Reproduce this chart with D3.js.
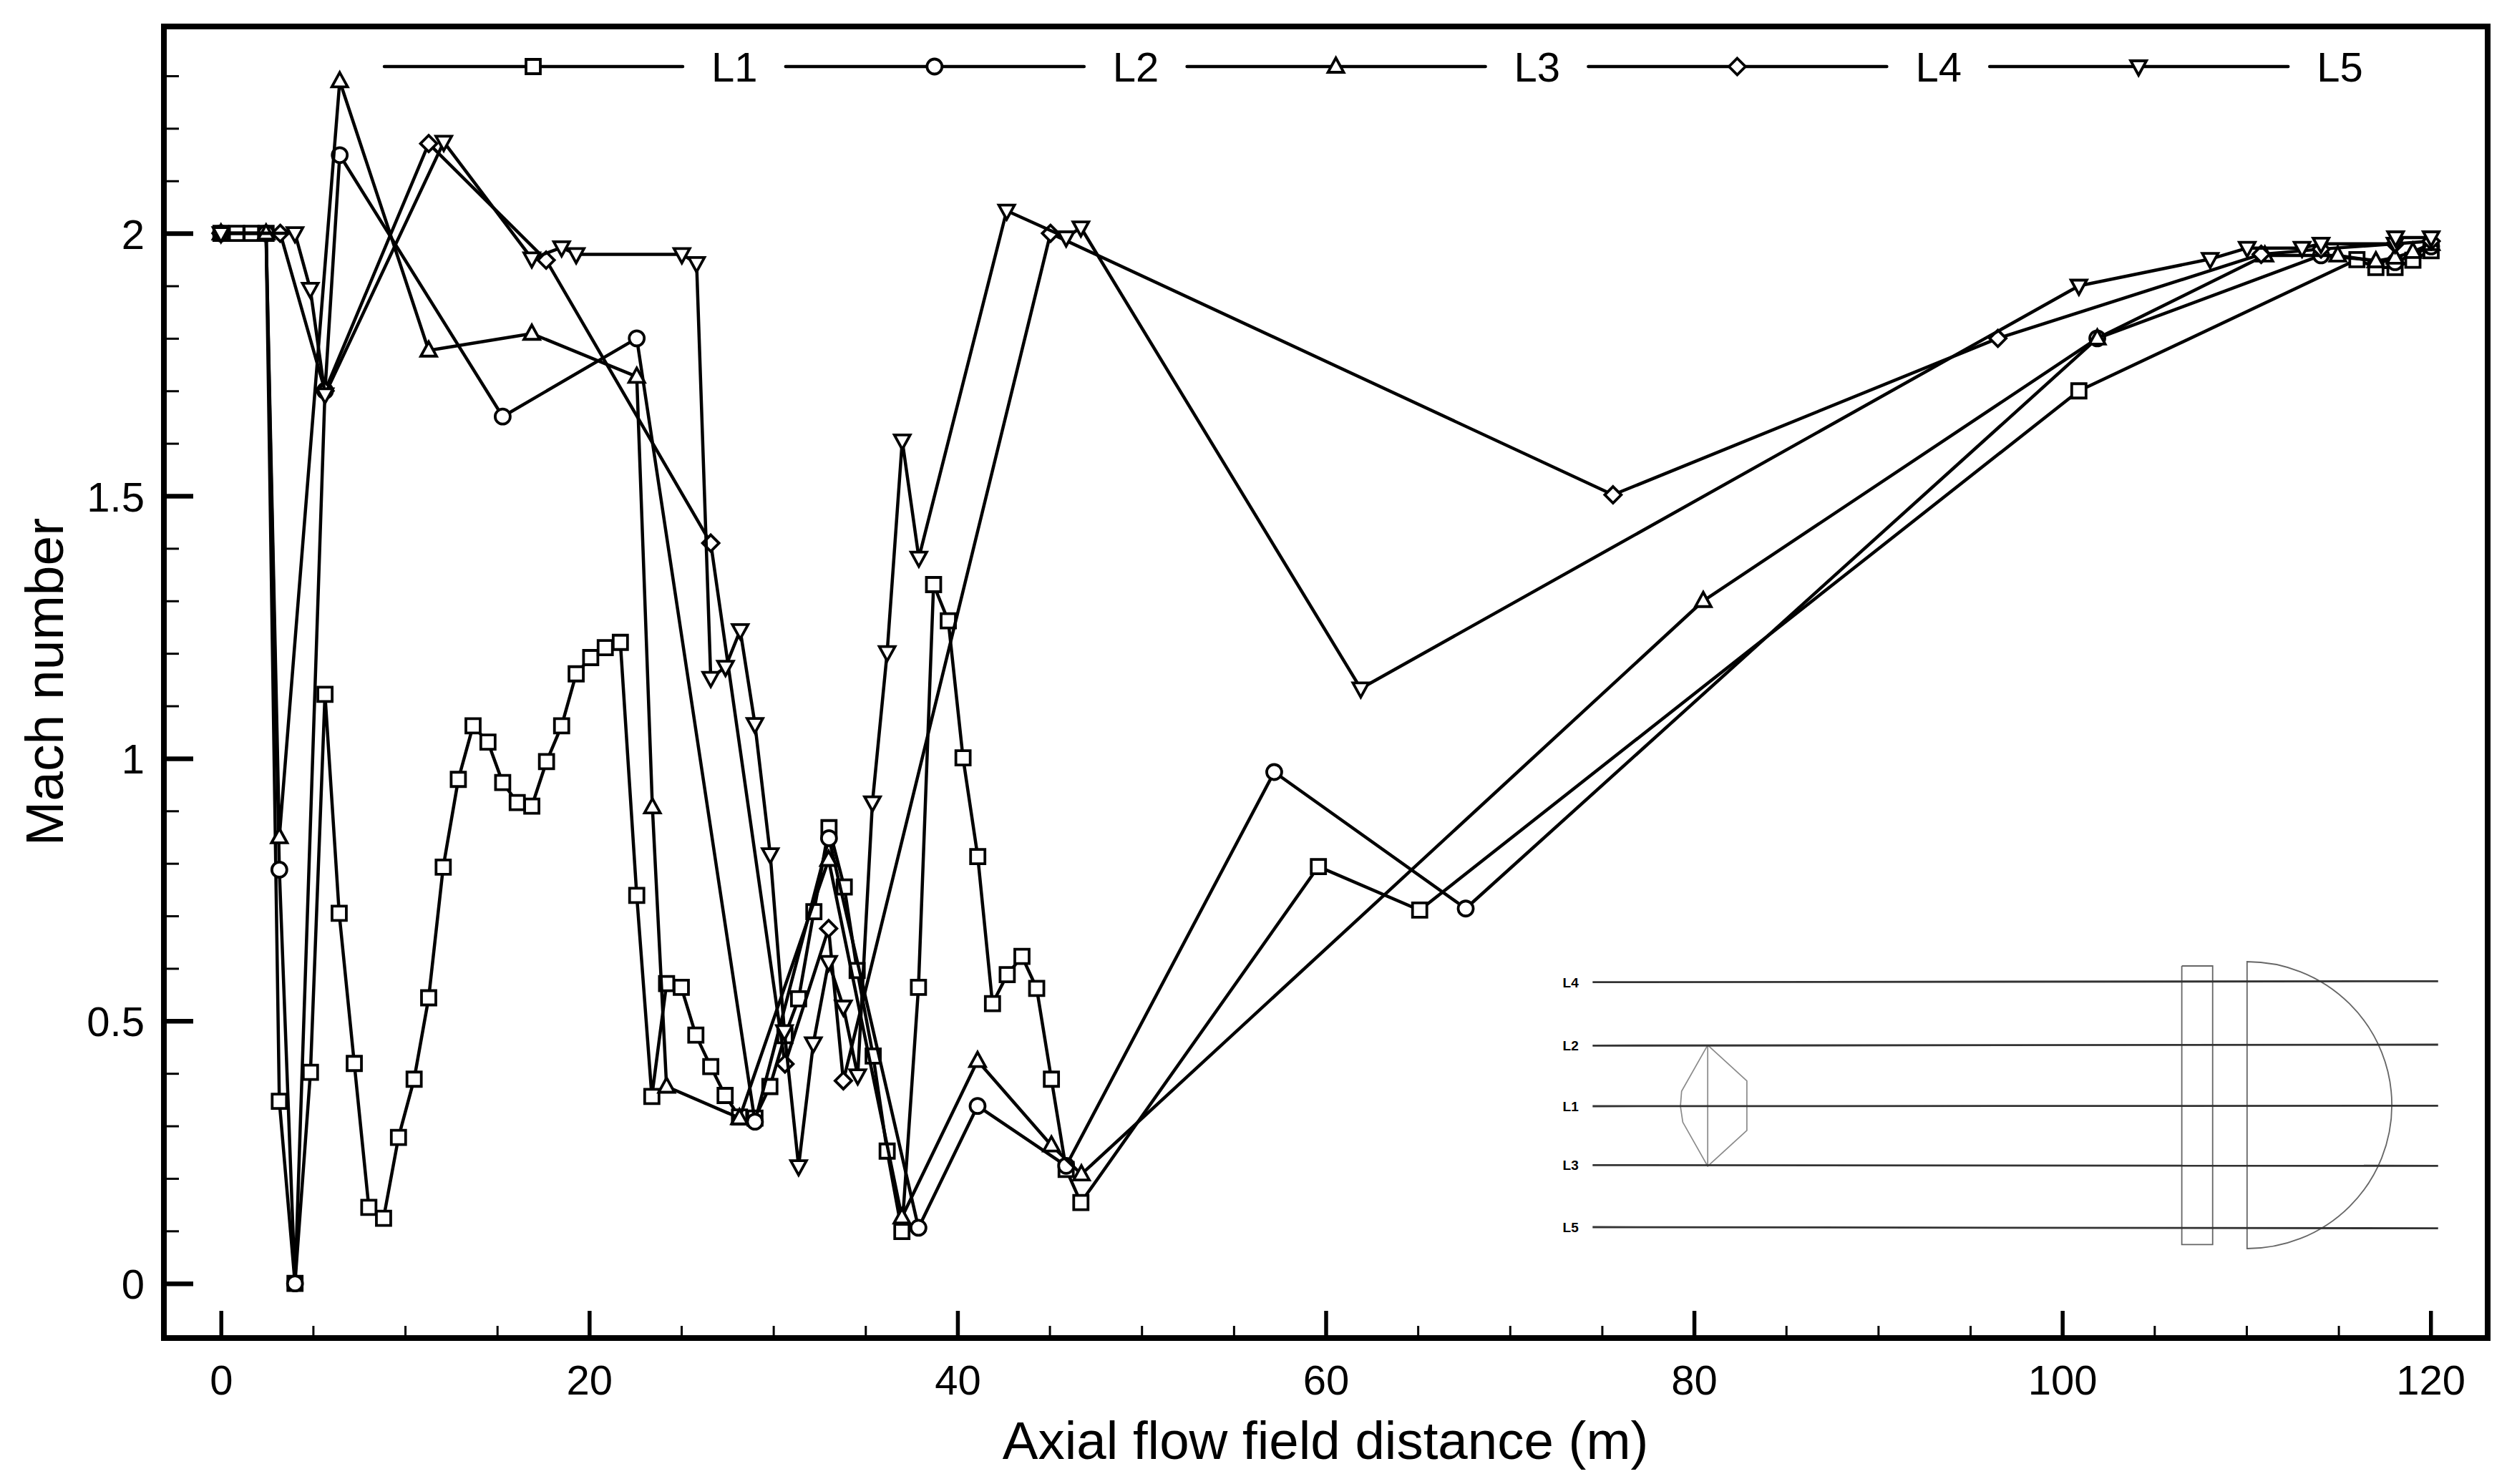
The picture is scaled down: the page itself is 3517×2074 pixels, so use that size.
<!DOCTYPE html>
<html>
    <head>
        <script src="https://d3js.org/d3.v7.min.js"></script>
        <meta charset="utf-8">
        <title>Mach number along axial lines</title>
        <style>
            html, body { margin: 0; padding: 0; background: #fff; }
            text { font-family: "Liberation Sans", Arial, sans-serif; fill: #000; }
        </style>
    </head>
    <body>
        <div id="app"></div>
        <script>

        // values
        const l1x = [0, 0.85, 1.65, 2.45, 3.17, 4.02, 4.86, 5.65, 6.42, 7.24, 8.03, 8.83, 9.64, 10.49, 11.28, 12.07, 12.89, 13.69, 14.5, 15.3, 16.09, 16.88, 17.68, 18.5, 19.29, 20.08, 20.87, 21.69, 22.58, 23.4, 24.2, 25.0, 25.79, 26.6, 27.38, 28.16, 29.0, 29.81, 30.63, 31.37, 32.2, 33.02, 33.85, 34.55, 35.42, 36.18, 36.98, 37.88, 38.7, 39.5, 40.3, 41.1, 41.9, 42.7, 43.5, 44.3, 45.1, 45.9, 46.7, 59.6, 65.1, 100.9, 116.0, 117.03, 118.07, 119.04, 120.03];
        const l1y = [2, 2, 2, 2, 0.347, 0, 0.402, 1.122, 0.705, 0.419, 0.145, 0.124, 0.278, 0.389, 0.544, 0.793, 0.96, 1.062, 1.031, 0.954, 0.916, 0.909, 0.994, 1.062, 1.161, 1.192, 1.211, 1.221, 0.739, 0.356, 0.571, 0.564, 0.473, 0.413, 0.358, 0.317, 0.315, 0.375, 0.472, 0.542, 0.708, 0.868, 0.755, 0.596, 0.433, 0.252, 0.099, 0.564, 1.331, 1.262, 1.001, 0.813, 0.533, 0.588, 0.623, 0.562, 0.389, 0.217, 0.154, 0.794, 0.711, 1.7, 1.95, 1.935, 1.935, 1.949, 1.967];

        const l2x = [0, 2.45, 3.17, 4.02, 5.65, 6.45, 15.3, 22.58, 29.0, 33.02, 37.88, 41.09, 45.9, 57.2, 67.6, 101.9, 114.05, 118.07, 120.03];
        const l2y = [2, 2, 0.788, 0, 1.7, 2.149, 1.651, 1.8, 0.308, 0.848, 0.106, 0.338, 0.224, 0.974, 0.714, 1.8, 1.958, 1.945, 1.975];

        const l3x = [0, 2.45, 3.17, 6.45, 11.28, 16.88, 22.58, 23.43, 24.2, 28.16, 33.0, 36.98, 41.09, 45.1, 46.73, 80.5, 101.9, 111.0, 114.96, 117.03, 118.07, 119.04, 120.03];
        const l3y = [2, 2, 0.85, 2.29, 1.777, 1.809, 1.727, 0.907, 0.375, 0.315, 0.807, 0.126, 0.424, 0.263, 0.208, 1.3, 1.8, 1.958, 1.958, 1.947, 1.954, 1.965, 1.98];

        const l4x = [0, 3.22, 5.65, 11.28, 17.66, 26.6, 30.63, 33.0, 33.8, 45.05, 75.6, 96.5, 110.8, 114.05, 118.07, 120.03];
        const l4y = [2, 2, 1.7, 2.171, 1.949, 1.41, 0.418, 0.676, 0.386, 2, 1.502, 1.8, 1.96, 1.97, 1.98, 1.985];

        const l5x = [0, 4.02, 4.85, 5.65, 12.1, 16.88, 18.5, 19.29, 25.03, 25.83, 26.6, 27.4, 28.2, 29.0, 29.83, 30.6, 31.37, 32.17, 33.0, 33.8, 34.58, 35.38, 36.18, 37.0, 37.9, 42.67, 45.9, 46.7, 61.9, 100.9, 108.03, 110.04, 113.02, 114.05, 118.07, 118.1, 120.03];
        const l5y = [2, 2, 1.894, 1.693, 2.174, 1.952, 1.973, 1.96, 1.96, 1.943, 1.153, 1.174, 1.244, 1.065, 0.817, 0.48, 0.223, 0.457, 0.612, 0.527, 0.396, 0.916, 1.202, 1.605, 1.382, 2.043, 1.992, 2.011, 1.133, 1.9, 1.951, 1.972, 1.972, 1.98, 1.98, 1.992, 1.992];

        const seriesNames = ["L1", "L2", "L3", "L4", "L5"];
        const seriesX = [l1x, l2x, l3x, l4x, l5x];
        const seriesY = [l1y, l2y, l3y, l4y, l5y];
        const seriesMarkers = ["square", "circle", "triangle", "diamond", "down"];

        const xMajor = [0, 20, 40, 60, 80, 100, 120];
        const xMinor = d3.range(5, 120, 5).filter(d => d % 20 != 0);
        const yMajor = [0, 0.5, 1, 1.5, 2];
        const yMinor = [0.1, 0.2, 0.3, 0.4, 0.6, 0.7, 0.8, 0.9, 1.1, 1.2, 1.3, 1.4, 1.6, 1.7, 1.8, 1.9, 2.1, 2.2, 2.3];

        // inset sketch of the body with the five sampling lines, traced in its own units
        const insetLines = [
            {name: "L4", y0: 218, y1: 214},
            {name: "L2", y0: 484, y1: 480},
            {name: "L1", y0: 738, y1: 736},
            {name: "L3", y0: 985, y1: 988},
            {name: "L5", y0: 1245, y1: 1250}
        ];
        const lensOutline = [[309, 482], [375, 632], [375, 840], [309, 990], [267, 805], [263, 738], [265, 675], [309, 482]];
        const lensAxis = [[309, 482], [309, 990]];
        const plateOutline = [[1108, 150], [1160, 150], [1160, 1318], [1108, 1318], [1108, 150]];

        const width = 3517, height = 2074;
        const frame = {left: 229, right: 3476, top: 37, bottom: 1870};

        const x = d3.scaleLinear().domain([-3.1, 123.1]).range([frame.left, frame.right]);
        const y = d3.scaleLinear().domain([-0.104, 2.394]).range([frame.bottom, frame.top]);

        const svg = d3.select("#app").append("svg")
            .attr("width", width)
            .attr("height", height)
            .style("display", "block");

        svg.append("rect").attr("width", width).attr("height", height).attr("fill", "#fff");

        const markerPaths = {
            square: "M-10,-10H10V10H-10Z",
            circle: "M-10.5,0A10.5,10.5 0 1,1 10.5,0A10.5,10.5 0 1,1 -10.5,0Z",
            triangle: "M0,-12L11,8H-11Z",
            down: "M0,12L11,-8H-11Z",
            diamond: "M0,-11.5L11.5,0L0,11.5L-11.5,0Z"
        };

        function drawMarker(g, kind, px, py) {
            g.append("path")
                .attr("d", markerPaths[kind])
                .attr("transform", `translate(${px},${py})`)
                .attr("fill", "#fff")
                .attr("stroke", "#000")
                .attr("stroke-width", 3.8);
        }

        // inset goes under the curves
        const insetX = d3.scaleLinear().domain([0, 1568]).range([2130, 3430]);
        const insetY = d3.scaleLinear().domain([0, 1500]).range([1300, 1800]);
        const inset = svg.append("g");
        const insetLine = d3.line().x(d => insetX(d[0])).y(d => insetY(d[1]));

        inset.append("path").attr("d", insetLine(lensOutline)).attr("fill", "none").attr("stroke", "#8a8a8a").attr("stroke-width", 1.7);
        inset.append("path").attr("d", insetLine(lensAxis)).attr("fill", "none").attr("stroke", "#8a8a8a").attr("stroke-width", 1.7);
        inset.append("path").attr("d", insetLine(plateOutline)).attr("fill", "none").attr("stroke", "#666").attr("stroke-width", 1.8);

        // nose: flat base and elliptical dome
        const rx = insetX(1462) - insetX(1218), ry = (insetY(1335) - insetY(132)) / 2;
        inset.append("path")
            .attr("d", `M${insetX(1218)},${insetY(132)}A${rx},${ry} 0 0,1 ${insetX(1218)},${insetY(1335)}Z`)
            .attr("fill", "none")
            .attr("stroke", "#666")
            .attr("stroke-width", 1.8);

        insetLines.forEach(l => {
            inset.append("line")
                .attr("x1", insetX(115)).attr("y1", insetY(l.y0))
                .attr("x2", insetX(1540)).attr("y2", insetY(l.y1))
                .attr("stroke", "#333")
                .attr("stroke-width", 2.8);
            inset.append("text")
                .attr("x", insetX(78)).attr("y", insetY(l.y0) + 7)
                .attr("text-anchor", "middle")
                .attr("font-size", 19)
                .attr("font-weight", "bold")
                .attr("fill", "#222")
                .text(l.name);
        });

        // curves, each series draws its line then its markers
        const curve = d3.line().x(d => x(d[0])).y(d => y(d[1]));
        seriesNames.forEach((name, i) => {
            const pts = d3.zip(seriesX[i], seriesY[i]);
            const g = svg.append("g").attr("class", "series");
            g.append("path")
                .attr("d", curve(pts))
                .attr("fill", "none")
                .attr("stroke", "#000")
                .attr("stroke-width", 4.5)
                .attr("stroke-linejoin", "round");
            pts.forEach(p => drawMarker(g, seriesMarkers[i], x(p[0]), y(p[1])));
        });

        // legend across the top
        const legend = svg.append("g");
        seriesNames.forEach((name, i) => {
            const x0 = 537 + 560.8 * i;
            legend.append("line")
                .attr("x1", x0).attr("x2", x0 + 417)
                .attr("y1", 93).attr("y2", 93)
                .attr("stroke", "#000")
                .attr("stroke-width", 4.5)
                .attr("stroke-linecap", "round");
            drawMarker(legend, seriesMarkers[i], x0 + 208, 93);
            legend.append("text")
                .attr("x", x0 + 457)
                .attr("y", 114)
                .attr("font-size", 58)
                .text(name);
        });

        // axes
        const xAxisMinor = d3.axisBottom(x).tickValues(xMinor).tickSize(-17).tickFormat("");
        const xAxisMajor = d3.axisBottom(x).tickValues(xMajor).tickSize(-38).tickPadding(0).tickFormat(d3.format("d"));
        const yAxisMinor = d3.axisLeft(y).tickValues(yMinor).tickSize(-21).tickFormat("");
        const yAxisMajor = d3.axisLeft(y).tickValues(yMajor).tickSize(-41).tickPadding(0).tickFormat(d => d);

        function drawAxis(axis, transform, tickWidth) {
            const g = svg.append("g").attr("transform", transform).call(axis);
            g.select(".domain").remove();
            g.selectAll(".tick line").attr("stroke", "#000").attr("stroke-width", tickWidth);
            return g;
        }

        drawAxis(xAxisMinor, `translate(0,${frame.bottom})`, 3);
        drawAxis(yAxisMinor, `translate(${frame.left},0)`, 3);

        const xg = drawAxis(xAxisMajor, `translate(0,${frame.bottom})`, 5.5);
        xg.selectAll(".tick text")
            .attr("font-family", "Liberation Sans")
            .attr("font-size", 58)
            .attr("fill", "#000")
            .attr("dy", 0)
            .attr("y", 79);

        const yg = drawAxis(yAxisMajor, `translate(${frame.left},0)`, 6.5);
        yg.selectAll(".tick text")
            .attr("font-family", "Liberation Sans")
            .attr("font-size", 58)
            .attr("fill", "#000")
            .attr("x", -27)
            .attr("dy", 0)
            .attr("y", 21);

        svg.append("rect")
            .attr("x", frame.left).attr("y", frame.top)
            .attr("width", frame.right - frame.left).attr("height", frame.bottom - frame.top)
            .attr("fill", "none")
            .attr("stroke", "#000")
            .attr("stroke-width", 8);

        svg.append("text")
            .attr("x", 1852)
            .attr("y", 2039)
            .attr("text-anchor", "middle")
            .attr("font-size", 74.5)
            .text("Axial flow field distance (m)");

        svg.append("text")
            .attr("transform", "translate(88,953) rotate(-90)")
            .attr("text-anchor", "middle")
            .attr("font-size", 75)
            .text("Mach number");

        </script>
    </body>
</html>
